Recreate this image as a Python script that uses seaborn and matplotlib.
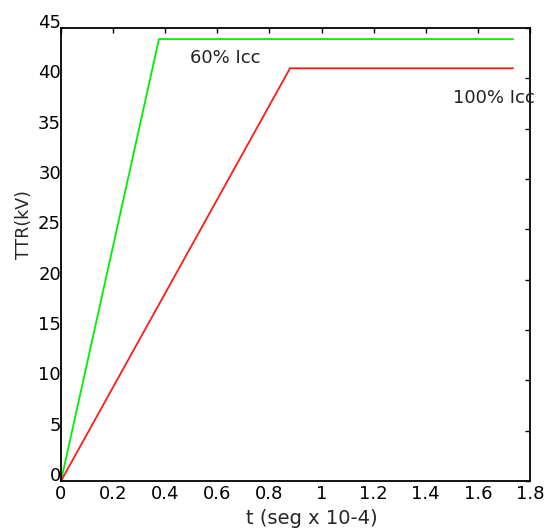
import matplotlib
matplotlib.use("Agg")
import matplotlib.pyplot as plt
import seaborn as sns
import pandas as pd

# Data
t_60 = [0.0, 0.376, 1.735]
v_60 = [0.0, 43.9, 43.9]
t_100 = [0.0, 0.879, 1.735]
v_100 = [0.0, 41.0, 41.0]
series_names = ["60% Icc", "100% Icc"]
x_ticks = [0, 0.2, 0.4, 0.6, 0.8, 1, 1.2, 1.4, 1.6, 1.8]
x_tick_labels = ["0", "0.2", "0.4", "0.6", "0.8", "1", "1.2", "1.4", "1.6", "1.8"]
y_ticks = [0, 5, 10, 15, 20, 25, 30, 35, 40, 45]

sns.set_style("white")
plt.rcParams['font.family'] = ['DejaVu Sans']

df = pd.concat([
    pd.DataFrame({"t": t_60, "v": v_60, "s": series_names[0]}),
    pd.DataFrame({"t": t_100, "v": v_100, "s": series_names[1]}),
])

fig = plt.figure(figsize=(5.48, 5.29), dpi=100)
ax = fig.add_axes([61 / 548, 48 / 529, 469 / 548, 453 / 529])
sns.lineplot(data=df, x="t", y="v", hue="s",
             palette={series_names[0]: "#00f000", series_names[1]: "#ff1a1a"},
             linewidth=1.3, legend=False, ax=ax, sort=False, estimator=None)

ax.set_xlim(0, 1.8)
ax.set_ylim(0, 45)
ax.set_xticks(x_ticks)
ax.set_xticklabels(x_tick_labels)
ax.set_yticks(y_ticks)
ax.tick_params(direction="in", length=3.3, width=1, top=True, right=True,
               labelsize=13, colors="black")
ax.tick_params(axis="x", pad=3)
ax.tick_params(axis="y", pad=0)
plt.setp(ax.get_yticklabels(), va="baseline")
for sp in ax.spines.values():
    sp.set_color("black")
    sp.set_linewidth(1.3)

ax.set_xlabel("t (seg x 10-4)", fontsize=14)
ax.xaxis.label.set_va("baseline")
ax.xaxis.set_label_coords(0.535, -0.095)
ax.set_ylabel("TTR(kV)", fontsize=12.5)
ax.yaxis.set_label_coords(-0.06, 0.567)

ax.text(0.495, 41.5, series_names[0], fontsize=13, va="baseline", ha="left", color="#222222")
ax.text(1.505, 37.55, series_names[1], fontsize=13, va="baseline", ha="left", color="#222222",
        clip_on=False)

fig.savefig("out.png", dpi=100)
